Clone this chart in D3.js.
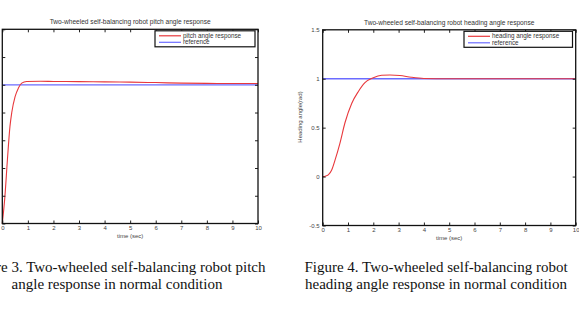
<!DOCTYPE html>
<html>
<head>
<meta charset="utf-8">
<script src="https://cdn.jsdelivr.net/npm/d3@7"></script>
<style>
  body { margin: 0; background: #fff; }
  svg { display: block; }
  .tick text { font-family: "Liberation Sans", Arial, sans-serif; }
</style>
</head>
<body>
<svg id="fig" width="579" height="311"></svg>
<script>
// data
const X_TICKS = [0, 1, 2, 3, 4, 5, 6, 7, 8, 9, 10];
const PITCH_Y_TICKS = [0, 0.2, 0.4, 0.6, 0.8, 1, 1.2, 1.4];
const HEADING_Y_TICKS = [-0.5, 0, 0.5, 1, 1.5];

const PITCH_T = [0, 0.1, 0.2, 0.3, 0.37, 0.5, 0.63, 0.76, 0.95, 1.5, 2, 3, 4, 5, 6, 7, 8, 9, 10];
const PITCH_V = [0, 0.19, 0.46, 0.70, 0.80, 0.915, 0.976, 1.012, 1.024, 1.025, 1.024, 1.023, 1.021, 1.019, 1.016, 1.012, 1.010, 1.009, 1.009];

const HEADING_T = [0, 0.1, 0.22, 0.36, 0.49, 0.68, 0.88, 1.15, 1.41, 1.67, 2.0, 2.33, 2.66, 3.05, 3.5, 4, 5, 6, 7, 8, 9, 10];
const HEADING_V = [0, 0.004, 0.017, 0.07, 0.17, 0.34, 0.55, 0.75, 0.87, 0.96, 1.01, 1.035, 1.038, 1.033, 1.015, 1.003, 1.0, 1.0, 1.0, 1.0, 1.0, 1.0];

const REF_T = [0, 10];
const REF_V = [1, 1];

const RED = '#e8383c';
const BLUE = '#6b6bff';

const svg = d3.select('#fig');

function drawPanel(opt) {
  const x = d3.scaleLinear().domain([0, 10]).range([opt.left, opt.right]);
  const y = d3.scaleLinear().domain(opt.yDomain).range([opt.bottom, opt.top]);
  const g = svg.append('g');

  // title
  g.append('text')
    .attr('x', (opt.left + opt.right) / 2)
    .attr('y', opt.top - 5)
    .attr('text-anchor', 'middle')
    .attr('font-family', 'Liberation Sans, Arial, sans-serif')
    .attr('font-size', '6.6px')
    .attr('fill', '#333')
    .text(opt.title);

  // lines
  const line = d3.line().x(d => x(d[0])).y(d => y(d[1])).curve(d3.curveMonotoneX);
  g.append('path')
    .datum(REF_T.map((t, i) => [t, REF_V[i]]))
    .attr('d', line)
    .attr('fill', 'none')
    .attr('stroke', BLUE)
    .attr('stroke-width', 1.3);
  g.append('path')
    .datum(opt.t.map((t, i) => [t, opt.v[i]]))
    .attr('d', line)
    .attr('fill', 'none')
    .attr('stroke', RED)
    .attr('stroke-width', 1.1);

  // axes, matlab style ticks pointing in
  const axStyle = sel => {
    sel.select('.domain').remove();
    sel.selectAll('.tick line').attr('stroke', '#222');
    sel.selectAll('.tick text').attr('font-size', '6px').attr('fill', '#444');
  };
  g.append('g').attr('transform', `translate(0,${opt.bottom})`)
    .call(d3.axisBottom(x).tickValues(X_TICKS).tickSizeInner(-3).tickSizeOuter(0).tickPadding(2.5))
    .call(axStyle);
  g.append('g').attr('transform', `translate(0,${opt.top})`)
    .call(d3.axisTop(x).tickValues(X_TICKS).tickSizeInner(-3).tickSizeOuter(0).tickFormat(''))
    .call(axStyle);
  const yl = d3.axisLeft(y).tickValues(opt.yTicks).tickSizeInner(-3).tickSizeOuter(0).tickPadding(3)
    .tickFormat(d => opt.yLabels ? String(d) : '');
  g.append('g').attr('transform', `translate(${opt.left},0)`)
    .call(yl)
    .call(axStyle);
  g.append('g').attr('transform', `translate(${opt.right},0)`)
    .call(d3.axisRight(y).tickValues(opt.yTicks).tickSizeInner(-3).tickSizeOuter(0).tickFormat(''))
    .call(axStyle);

  // frame
  g.append('rect')
    .attr('x', opt.left).attr('y', opt.top)
    .attr('width', opt.right - opt.left).attr('height', opt.bottom - opt.top)
    .attr('fill', 'none').attr('stroke', '#111').attr('stroke-width', 1.3);

  // x label
  g.append('text')
    .attr('x', (opt.left + opt.right) / 2)
    .attr('y', opt.bottom + 14)
    .attr('text-anchor', 'middle')
    .attr('font-family', 'Liberation Sans, Arial, sans-serif')
    .attr('font-size', '6px').attr('fill', '#444')
    .text('time (sec)');

  if (opt.yLabel) {
    g.append('text')
      .attr('transform', `translate(${opt.left - 21},${opt.yLabelY}) rotate(-90)`)
      .attr('text-anchor', 'middle')
      .attr('font-family', 'Liberation Sans, Arial, sans-serif')
      .attr('font-size', '6px').attr('fill', '#444')
      .text(opt.yLabel);
  }

  // legend
  const lg = g.append('g').attr('transform', `translate(${opt.legX},${opt.top + 1.5})`);
  lg.append('rect')
    .attr('width', opt.legW).attr('height', 16)
    .attr('fill', '#fff').attr('stroke', '#111').attr('stroke-width', 1.2);
  [[opt.name, RED], ['reference', BLUE]].forEach((d, i) => {
    lg.append('line')
      .attr('x1', 4).attr('x2', 26)
      .attr('y1', 5 + i * 6.5).attr('y2', 5 + i * 6.5)
      .attr('stroke', d[1]).attr('stroke-width', 1.2);
    lg.append('text')
      .attr('x', 28).attr('y', 7.2 + i * 6.5)
      .attr('font-family', 'Liberation Sans, Arial, sans-serif')
      .attr('font-size', '6.3px').attr('fill', '#333')
      .text(d[0]);
  });

  // caption
  const cap = svg.append('text')
    .attr('text-anchor', 'middle')
    .attr('font-family', 'Liberation Serif, Times New Roman, serif')
    .attr('font-size', '15px')
    .attr('fill', '#111');
  opt.caption.forEach((c, i) => {
    cap.append('tspan').attr('x', opt.capX).attr('y', 272 + i * 16.5).text(c);
  });
}

drawPanel({
  left: 2.3, right: 258, top: 29.3, bottom: 223.5,
  yDomain: [0, 1.4], yTicks: PITCH_Y_TICKS, yLabels: false,
  t: PITCH_T, v: PITCH_V,
  title: 'Two-wheeled self-balancing robot pitch angle response',
  name: 'pitch angle response',
  legX: 155, legW: 100,
  caption: ['Figure 3. Two-wheeled self-balancing robot pitch', 'angle response in normal condition'],
  capX: 117
});

drawPanel({
  left: 322.7, right: 575.7, top: 29.8, bottom: 225.5,
  yDomain: [-0.5, 1.5], yTicks: HEADING_Y_TICKS, yLabels: true,
  yLabel: 'Heading angle(rad)', yLabelY: 117,
  t: HEADING_T, v: HEADING_V,
  title: 'Two-wheeled self-balancing robot heading angle response',
  name: 'heading angle response',
  legX: 464, legW: 108.5,
  caption: ['Figure 4. Two-wheeled self-balancing robot', 'heading angle response in normal condition'],
  capX: 436
});
</script>
</body>
</html>
